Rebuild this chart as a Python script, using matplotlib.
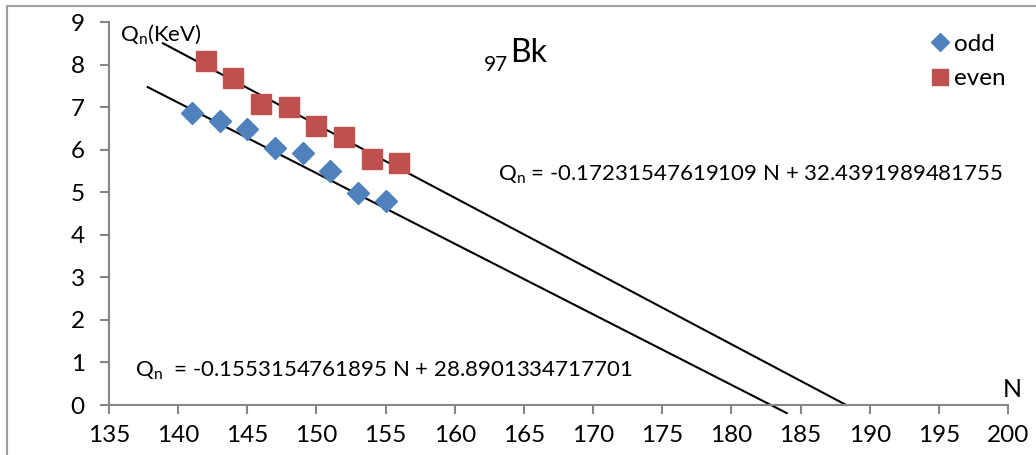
import matplotlib
matplotlib.use('Agg')
import matplotlib.pyplot as plt
from matplotlib.lines import Line2D

plt.rcParams['font.family'] = ['Lato', 'DejaVu Sans']
plt.rcParams['mathtext.fontset'] = 'custom'
plt.rcParams['mathtext.rm'] = 'Lato'
plt.rcParams['mathtext.it'] = 'Lato:italic'

# odd / even N data
odd_N = [141, 143, 145, 147, 149, 151, 153, 155]
odd_Q = [6.87, 6.68, 6.48, 6.05, 5.93, 5.49, 4.98, 4.80]
even_N = [142, 144, 146, 148, 150, 152, 154, 156]
even_Q = [8.08, 7.68, 7.08, 7.00, 6.56, 6.30, 5.79, 5.68]

# trend lines as drawn (end points)
odd_fit_N = [137.8, 184.0]
odd_fit_Q = [7.47, -0.19]
even_fit_N = [138.9, 188.3]
even_fit_Q = [8.50, 0.0]

x_ticks = list(range(135, 201, 5))
y_ticks = list(range(0, 10))

blue = '#4F81BD'
red = '#C0504D'
grey = '#868686'

fig = plt.figure(figsize=(10.36, 4.55), dpi=100)
ax = fig.add_axes([109/1036, 1-405/455, (1008-109)/1036, (405-22)/455])

ax.plot(odd_fit_N, odd_fit_Q, color='black', lw=1.5, clip_on=False)
ax.plot(even_fit_N, even_fit_Q, color='black', lw=1.5, clip_on=False)
ax.plot(odd_N, odd_Q, 'D', color=blue, ms=11.5, mec=blue, ls='none', label='odd')
ax.plot(even_N, even_Q, 's', color=red, ms=14, mec=red, ls='none', label='even')

ax.set_xlim(135, 200)
ax.set_ylim(0, 9)
ax.set_xticks(x_ticks)
ax.set_yticks(y_ticks)
for s in ['top', 'right']:
    ax.spines[s].set_visible(False)
for s in ['left', 'bottom']:
    ax.spines[s].set_color(grey)
    ax.spines[s].set_linewidth(1.5)
ax.tick_params(direction='out', length=6.5, width=1.5, color=grey, labelsize=17.5)
ax.tick_params(axis='y', pad=11)
ax.tick_params(axis='x', pad=8)

ax.text(135.8, 8.57, r'Q$_\mathrm{n}$(KeV)', fontsize=16)
ax.text(200.3, 0.19, 'N', fontsize=18, ha='center')
ax.text(163.1, 5.28, r'Q$_\mathrm{n}$ = -0.17231547619109 N + 32.4391989481755', fontsize=16)
ax.text(136.9, 0.66, r'Q$_\mathrm{n}$  = -0.1553154761895 N + 28.8901334717701', fontsize=16)
ax.text(162.1, 7.86, '97', fontsize=15)
ax.text(164.0, 8.05, 'Bk', fontsize=23)

ax.legend(loc='upper left', bbox_to_anchor=(918/1036, 1-24/455), bbox_transform=fig.transFigure,
          frameon=False, fontsize=17.5, handletextpad=0.1, handlelength=1.0, labelspacing=0.55,
          markerscale=0.8, borderaxespad=0)

# outer chart frame (top and left only visible)
fig.add_artist(Line2D([7/1036, 1], [1-6/455, 1-6/455], color='#a0a0a0', lw=1.5))
fig.add_artist(Line2D([7/1036, 7/1036], [0, 1-6/455], color='#a0a0a0', lw=1.5))

fig.savefig('out.png', dpi=100)
